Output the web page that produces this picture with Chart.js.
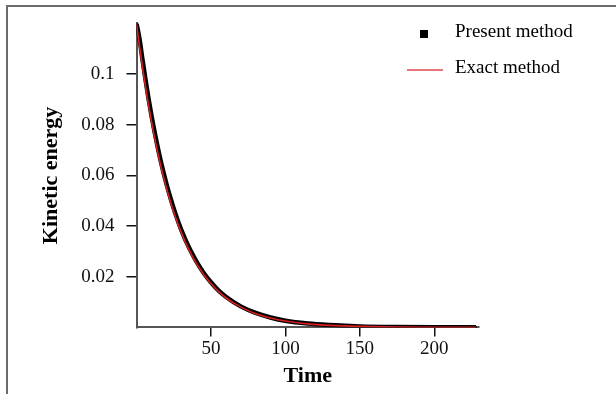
<!DOCTYPE html>
<html>
<head>
<meta charset="utf-8">
<script src="https://cdn.jsdelivr.net/npm/chart.js@4"></script>
<style>
  html, body { margin: 0; padding: 0; background: #fff; overflow: hidden; }
  #wrap { position: relative; width: 616px; height: 394px; }
  #frame { position: absolute; left: 6px; top: 5px; width: 700px; height: 500px;
           border-top: 2px solid #6b6b6b; border-left: 2px solid #6b6b6b; }
  canvas { position: absolute; left: 0; top: 0; }
</style>
</head>
<body>
<div id="wrap">
  <div id="frame"></div>
  <canvas id="keChart" width="616" height="394"></canvas>
</div>
<script>
// Kinetic energy decay: present method vs exact solution
const exactTime = [0, 2, 4, 6, 8, 10, 12, 14, 16, 18, 20, 23, 26, 30, 35, 40, 45, 50, 55, 60, 70, 80, 90, 100, 115, 130, 150, 175, 200, 228];
const exactEnergy = [0.1200, 0.1110, 0.1027, 0.0951, 0.0880, 0.0814, 0.0753, 0.0697, 0.0645, 0.0597, 0.0552, 0.0492, 0.0438, 0.0375, 0.0309, 0.0255, 0.0210, 0.0173, 0.0142, 0.0117, 0.0080, 0.0054, 0.0037, 0.0025, 0.0014, 0.0008, 0.0004, 0.00015, 0.00006, 0.00002];

const presentTime = [0, 2, 4, 6, 8, 10, 12, 14, 16, 18, 20, 23, 26, 30, 35, 40, 45, 50, 55, 60, 70, 80, 90, 100, 115, 130, 150, 175, 200, 228];
const presentEnergy = [0.1200, 0.1140, 0.1058, 0.0980, 0.0906, 0.0838, 0.0776, 0.0718, 0.0664, 0.0615, 0.0569, 0.0507, 0.0451, 0.0386, 0.0318, 0.0263, 0.0216, 0.0178, 0.0146, 0.0121, 0.0083, 0.0057, 0.0039, 0.0026, 0.0015, 0.0009, 0.0004, 0.00016, 0.00006, 0.00002];

const xTicks = [50, 100, 150, 200];
const yTicks = [0.02, 0.04, 0.06, 0.08, 0.1];

const serif = '"Liberation Serif", "Times New Roman", serif';

// legend drawn inside the plot, top right
const innerLegend = {
  id: 'innerLegend',
  afterDraw(chart) {
    const ctx = chart.ctx;
    const ds = chart.data.datasets;
    ctx.save();
    ctx.font = '19px ' + serif;
    ctx.textBaseline = 'alphabetic';
    ctx.fillStyle = '#000';
    // square marker
    ctx.fillRect(420, 30, 8, 8);
    ctx.fillText(ds[1].label, 455, 37);
    // red line marker
    ctx.strokeStyle = '#e0474c';
    ctx.lineWidth = 1.5;
    ctx.beginPath();
    ctx.moveTo(407, 70);
    ctx.lineTo(443, 70);
    ctx.stroke();
    ctx.fillText(ds[0].label, 455, 73);
    ctx.restore();
  }
};

new Chart(document.getElementById('keChart'), {
  type: 'line',
  data: {
    datasets: [{
      label: 'Exact method',
      data: exactTime.map((t, i) => ({ x: t, y: exactEnergy[i] })),
      borderColor: '#d81e1e',
      borderWidth: 1.6,
      pointRadius: 0,
      cubicInterpolationMode: 'monotone',
      order: 0
    }, {
      label: 'Present method',
      data: presentTime.map((t, i) => ({ x: t, y: presentEnergy[i] })),
      borderColor: '#000',
      backgroundColor: '#000',
      borderWidth: 4.5,
      pointStyle: 'rect',
      pointRadius: 1.4,
      pointBorderWidth: 0,
      cubicInterpolationMode: 'monotone',
      order: 1
    }]
  },
  options: {
    responsive: false,
    animation: false,
    layout: { padding: { left: 38, top: 17, right: 137, bottom: 0 } },
    plugins: {
      legend: { display: false },
      tooltip: { enabled: false }
    },
    scales: {
      x: {
        type: 'linear',
        min: 0,
        max: 230,
        afterBuildTicks: s => { s.ticks = xTicks.map(v => ({ value: v })); },
        afterFit: s => { s.height = 66.6; },
        grid: { drawOnChartArea: false, drawTicks: true, tickLength: 9, tickColor: '#111', lineWidth: 1.5 },
        border: { color: '#555', width: 2 },
        ticks: { color: '#111', padding: 1, font: { family: serif, size: 19 } },
        title: { display: true, text: 'Time', color: '#000', padding: { top: 0, bottom: 4 },
                 font: { family: serif, size: 22, weight: 'bold' } }
      },
      y: {
        min: 0,
        max: 0.12,
        afterBuildTicks: s => { s.ticks = yTicks.map(v => ({ value: v })); },
        afterFit: s => { s.width = 98.5; },
        grid: { drawOnChartArea: false, drawTicks: true, tickLength: 10, tickColor: '#111', lineWidth: 1.5 },
        border: { color: '#555', width: 2 },
        ticks: { color: '#111', padding: 12, font: { family: serif, size: 19 },
                 callback: v => String(v) },
        title: { display: true, text: 'Kinetic energy', color: '#000', padding: 0,
                 font: { family: serif, size: 22, weight: 'bold' } }
      }
    }
  },
  plugins: [innerLegend]
});
</script>
</body>
</html>
